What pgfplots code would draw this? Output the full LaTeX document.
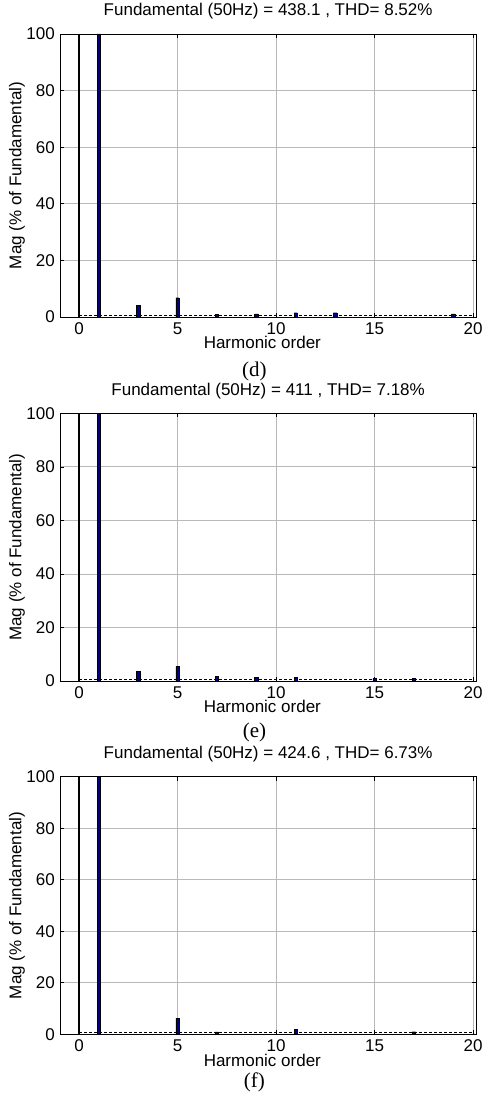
\documentclass[border=0pt]{standalone}
\usepackage{pgfplots}
\pgfplotsset{compat=1.18}
\usepackage{fontspec}
\setmainfont{Liberation Sans}
\newfontfamily\timesf{Liberation Serif}
\definecolor{navyb}{RGB}{0,0,128}

\tikzset{subcap/.style={font=\timesf\fontsize{21}{24}\selectfont}}
\pgfplotsset{
  fftax/.style={
    scale only axis, anchor=south west, width=415.7pt,
    xmin=-0.95, xmax=20.15, ymin=0, ymax=100,
    xtick={0,5,...,20}, ytick={0,20,...,100},
    xtick pos=both, ytick pos=both, tick align=inside,
    major tick length=4pt,
    clip mode=individual,
    grid=major, grid style={gray!55, line width=0.7pt},
    axis line style={line width=0.9pt},
    tick style={black, line width=0.6pt},
    font=\fontsize{17}{20}\selectfont,
    ticklabel style={font=\fontsize{17}{20}\selectfont},
    /pgf/number format/assume math mode=true,
    xticklabel style={yshift=-2pt},
    yticklabel style={xshift=-2pt},
    title style={at={(0.5,1)}, anchor=base, yshift=12pt},
    xlabel={Harmonic order},
    xlabel style={at={(axis description cs:0.486,0)}, anchor=base, yshift=-32pt},
    ylabel={Mag (\% of Fundamental)},
    ylabel style={at={(axis description cs:-0.104,0.5)}, anchor=center},
  },
  dcline/.style={black, line width=1.4pt, forget plot},
  floorline/.style={black, line width=0.8pt, dash pattern=on 3pt off 2pt, forget plot},
  harm/.style={ybar, bar width=3.4pt, fill=navyb, draw=black, line width=0.3pt},
}

\begin{document}
\begin{tikzpicture}
\path[use as bounding box] (0,0) rectangle (485pt,1095pt);

% (d)
\begin{axis}[fftax, at={(60.3pt,778pt)}, height=283pt,
  title={Fundamental (50Hz) = 438.1 , THD= 8.52\%}]
\addplot[dcline] coordinates {(0,0) (0,100)};
\addplot[floorline] coordinates {(0,0.6) (20,0.6)};
\addplot[harm] coordinates {(1,100) (3,4.1) (5,6.8) (7,1.0) (9,1.1) (11,1.5) (13,1.5) (19,1.1)};
\node[subcap] at (axis description cs:0.467,-0.194) {(d)};
\end{axis}

% (e)
\begin{axis}[fftax, at={(60.3pt,414pt)}, height=267.7pt,
  title={Fundamental (50Hz) = 411 , THD= 7.18\%}]
\addplot[dcline] coordinates {(0,0) (0,100)};
\addplot[floorline] coordinates {(0,0.6) (20,0.6)};
\addplot[harm] coordinates {(1,100) (3,3.7) (5,5.4) (7,1.8) (9,1.4) (11,1.4) (15,1.1) (17,0.9)};
\node[subcap] at (axis description cs:0.467,-0.194) {(e)};
\end{axis}

% (f)
\begin{axis}[fftax, at={(60.3pt,60.7pt)}, height=257.6pt,
  title={Fundamental (50Hz) = 424.6 , THD= 6.73\%}]
\addplot[dcline] coordinates {(0,0) (0,100)};
\addplot[floorline] coordinates {(0,0.6) (20,0.6)};
\addplot[harm] coordinates {(1,100) (5,6.3) (7,0.9) (11,1.9) (17,1.0)};
\node[subcap] at (axis description cs:0.467,-0.186) {(f)};
\end{axis}
\end{tikzpicture}
\end{document}
